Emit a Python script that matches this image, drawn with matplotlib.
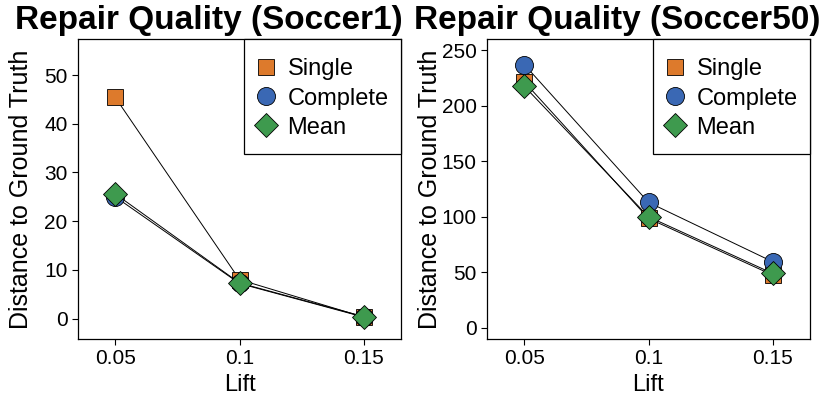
import matplotlib
matplotlib.use('Agg')
from matplotlib import pyplot as plt
from matplotlib.patches import Rectangle

# lift thresholds on the x axis
lifts = [0.05, 0.1, 0.15]
lift_labels = ['0.05', '0.1', '0.15']

# distance to ground truth, Soccer1
soccer1_single = [45.4, 8.0, 0.3]
soccer1_complete = [25.0, 7.2, 0.3]
soccer1_mean = [25.6, 7.3, 0.4]

# distance to ground truth, Soccer50
soccer50_single = [221.5, 98.5, 47.5]
soccer50_complete = [237.0, 113.0, 59.5]
soccer50_mean = [217.5, 100.0, 49.0]

plt.rcParams['font.family'] = ['Liberation Sans', 'DejaVu Sans']

orange = '#DD7A2C'
blue = '#3A68B4'
green = '#3E9A4E'


def panel(ax, single, complete, mean, ylim, yticks):
    ax.plot(lifts, single, color='black', lw=0.7, marker='s', ms=11.5,
            mfc=orange, mec='black', mew=0.6, label='Single')
    ax.plot(lifts, complete, color='black', lw=0.7, marker='o', ms=13,
            mfc=blue, mec='black', mew=0.6, label='Complete')
    ax.plot(lifts, mean, color='black', lw=0.7, marker='D', ms=12.5,
            mfc=green, mec='black', mew=0.6, label='Mean')
    ax.set_xlim(0.035, 0.165)
    ax.set_ylim(*ylim)
    ax.set_xticks(lifts)
    ax.set_xticklabels(lift_labels)
    ax.set_yticks(yticks)
    ax.tick_params(direction='out', length=4.5, width=0.8, labelsize=15, pad=3)
    for s in ax.spines.values():
        s.set_linewidth(0.9)
    ax.set_xlabel('Lift', fontsize=17, labelpad=4)
    ax.set_ylabel('Distance to Ground Truth', fontsize=18)
    # keep the y label at a fixed distance from the axis in both panels
    ax.yaxis.set_label_coords(-0.138, 0.5)

    # legend box pinned to the top-right corner, entries placed inside it
    ax.add_patch(Rectangle((0.514, 0.617), 0.486, 0.383, transform=ax.transAxes,
                           fill=True, fc='white', ec='black', lw=0.9,
                           zorder=5, clip_on=False))
    leg = ax.legend(loc='upper left', bbox_to_anchor=(0.545, 0.935),
                    fontsize=17, frameon=False, borderaxespad=0, borderpad=0,
                    handletextpad=0.42, labelspacing=0.3, handlelength=1.0)
    leg.set_zorder(6)
    for h in leg.legend_handles:
        h.set_linestyle('none')


fig = plt.figure(figsize=(8.25, 3.99), dpi=100)
ax1 = fig.add_axes([78 / 825, 60 / 399, 323 / 825, 300 / 399])
ax2 = fig.add_axes([487 / 825, 60 / 399, 323 / 825, 300 / 399])

panel(ax1, soccer1_single, soccer1_complete, soccer1_mean,
      (-4.2, 57.4), [0, 10, 20, 30, 40, 50])
panel(ax2, soccer50_single, soccer50_complete, soccer50_mean,
      (-10, 260), [0, 50, 100, 150, 200, 250])

fig.text(209 / 825, 1 - 20 / 399, 'Repair Quality (Soccer1)', ha='center',
         va='center', fontsize=24, fontweight='bold')
fig.text(617 / 825, 1 - 20 / 399, 'Repair Quality (Soccer50)', ha='center',
         va='center', fontsize=24, fontweight='bold')

fig.savefig('out.png', dpi=100)
